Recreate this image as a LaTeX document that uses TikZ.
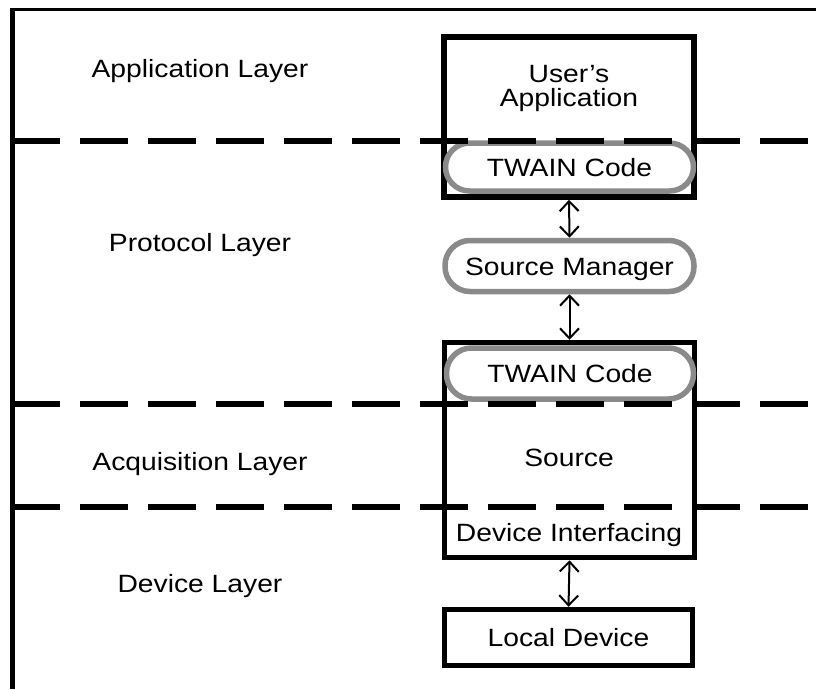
\documentclass[tikz,border=0pt]{standalone}
\usepackage{fontspec}
\setmainfont{Liberation Sans}[FakeStretch=1.13]
\usetikzlibrary{arrows.meta}
\definecolor{rimgray}{RGB}{138,138,138}
\begin{document}
\begin{tikzpicture}[x=1pt,y=-1pt,
  lbl/.style={font=\fontsize{25}{23}\selectfont, inner sep=0pt, anchor=base},
  layerbox/.style={draw=black, line width=5.5pt, inner sep=0pt,
    font=\fontsize{25}{23}\selectfont, text height=18pt, text depth=0pt},
  pill/.style={draw=rimgray, fill=white, line width=5.5pt, inner sep=0pt,
    rounded corners=#1, font=\fontsize{25}{23}\selectfont,
    text height=18pt, text depth=0pt},
  divider/.style={line width=6.5pt, dash pattern=on 48pt off 20pt},
  biarrow/.style={line width=2pt,
    {Straight Barb[length=10pt,width=19pt]}-{Straight Barb[length=10pt,width=19pt]}},
]
\useasboundingbox (0,0) rectangle (816,689);

% frame
\draw[line width=4.5pt] (12.5,689) -- (12.5,7.5);
\draw[line width=3.5pt] (10.25,9.5) -- (816,9.5);

% layer names
\node[lbl] (applayer)   at (200,77)  {Application Layer};
\node[lbl] (protolayer) at (200,251) {Protocol Layer};
\node[lbl] (acqlayer)   at (200,470) {Acquisition Layer};
\node[lbl] (devlayer)   at (200,592) {Device Layer};

% components
\node[layerbox, minimum width=250pt, minimum height=160pt] (app) at (569,117) {};
\node[lbl] (appline1) at (569,82)  {User's};
\node[lbl] (appline2) at (569,106) {Application};
\node[pill=24pt, minimum width=248pt, minimum height=48pt] (twainA) at (569.5,167) {TWAIN Code};

\node[pill=25pt, minimum width=249pt, minimum height=51pt] (mgr) at (569.5,266) {Source Manager};

\node[layerbox, minimum width=250pt, minimum height=215pt] (src) at (569.5,450) {};
\node[pill=25pt, minimum width=247pt, minimum height=51pt] (twainB) at (570,373.5) {TWAIN Code};
\node[lbl] (srcname) at (569,466) {Source};
\node[lbl] (devif)   at (569,541) {Device Interfacing};

\node[layerbox, minimum width=248pt, minimum height=56pt] (dev) at (568.5,637.5) {Local Device};

% layer boundaries
\draw[divider] (12,141) -- (816,141);
\draw[divider] (12,404) -- (816,404);
\draw[divider] (12,507) -- (816,507);

% links
\draw[biarrow] (app.south) -- (mgr.north);
\draw[biarrow] (mgr.south) -- (src.north);
\draw[biarrow] (src.south) -- (dev.north);
\end{tikzpicture}
\end{document}
